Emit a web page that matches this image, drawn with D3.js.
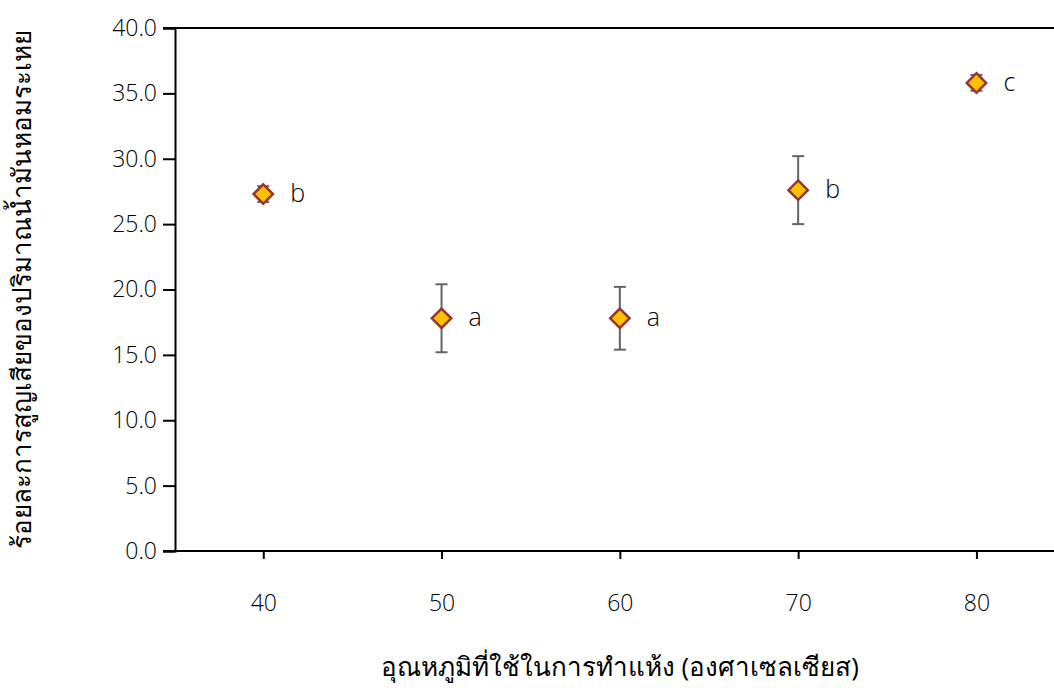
<!DOCTYPE html>
<html>
<head>
<meta charset="utf-8">
<script src="https://cdn.jsdelivr.net/npm/d3@7"></script>
<style>
  body { margin: 0; background: #fff; }
  text { font-family: "Open Sans", "Noto Sans", sans-serif; font-weight: 300; fill: #000; }
  text.thai { font-weight: 400; }
</style>
</head>
<body>
<div id="wrapper"></div>
<script>
// data
const temps = [40, 50, 60, 70, 80];
const lossMeans = [27.3, 17.8, 17.8, 27.6, 35.8];
const lossErrors = [0.6, 2.6, 2.4, 2.6, 0.6];
const groupLetters = ["b", "a", "a", "b", "c"];
const yTicks = [0, 5, 10, 15, 20, 25, 30, 35, 40];

const dataset = temps.map((t, i) => ({
  temp: t, mean: lossMeans[i], err: lossErrors[i], letter: groupLetters[i]
}));

const xAccessor = d => d.temp;
const yAccessor = d => d.mean;

// chart dimensions
let dimensions = {
  width: 1054,
  height: 688,
  margin: { top: 28, right: 0, bottom: 137, left: 175 },
};
dimensions.boundedWidth = dimensions.width - dimensions.margin.left - dimensions.margin.right;
dimensions.boundedHeight = dimensions.height - dimensions.margin.top - dimensions.margin.bottom;

const wrapper = d3.select("#wrapper")
  .append("svg")
    .attr("width", dimensions.width)
    .attr("height", dimensions.height);

const bounds = wrapper.append("g")
  .attr("transform", `translate(${dimensions.margin.left},${dimensions.margin.top})`);

// scales
const xScale = d3.scaleLinear()
  .domain([35.05, 84.35])
  .range([0, dimensions.boundedWidth]);

const yScale = d3.scaleLinear()
  .domain([0, 40])
  .range([dimensions.boundedHeight, 0]);

// top frame line
bounds.append("line")
  .attr("x1", -12).attr("x2", dimensions.boundedWidth)
  .attr("y1", yScale(40)).attr("y2", yScale(40))
  .attr("stroke", "#000").attr("stroke-width", 2);

// axes
const yAxis = bounds.append("g")
  .call(d3.axisLeft(yScale).tickValues(yTicks).tickFormat(d3.format(".1f")).tickSize(12).tickPadding(6))
  .call(g => g.attr("font-family", null).attr("font-size", null))
  .call(g => g.select(".domain").attr("stroke-width", 2))
  .call(g => g.selectAll(".tick line").attr("stroke-width", 2))
  .call(g => g.selectAll(".tick text").style("font-size", "23px"));

const xAxis = bounds.append("g")
  .attr("transform", `translate(0,${dimensions.boundedHeight})`)
  .call(d3.axisBottom(xScale).tickValues(temps).tickFormat(d3.format("d")).tickSize(8).tickSizeOuter(0).tickPadding(36))
  .call(g => g.attr("font-family", null).attr("font-size", null))
  .call(g => g.select(".domain").attr("stroke-width", 2).attr("d", `M-12,0H${dimensions.boundedWidth}`))
  .call(g => g.selectAll(".tick line").attr("stroke-width", 2))
  .call(g => g.selectAll(".tick text").style("font-size", "23px"));

// error bars
const errG = bounds.append("g").attr("stroke", "#646464").attr("stroke-width", 2);
errG.selectAll("line.stem")
  .data(dataset)
  .enter().append("line")
    .attr("class", "stem")
    .attr("x1", d => xScale(xAccessor(d))).attr("x2", d => xScale(xAccessor(d)))
    .attr("y1", d => yScale(d.mean - d.err)).attr("y2", d => yScale(d.mean + d.err));
["lo", "hi"].forEach(k => {
  errG.selectAll("line.cap-" + k)
    .data(dataset)
    .enter().append("line")
      .attr("class", "cap-" + k)
      .attr("x1", d => xScale(xAccessor(d)) - 6).attr("x2", d => xScale(xAccessor(d)) + 6)
      .attr("y1", d => yScale(k === "lo" ? d.mean - d.err : d.mean + d.err))
      .attr("y2", d => yScale(k === "lo" ? d.mean - d.err : d.mean + d.err));
});

// diamonds
const diamond = d3.symbol().type(d3.symbolDiamond2).size(240);
bounds.selectAll("path.dot")
  .data(dataset)
  .enter().append("path")
    .attr("class", "dot")
    .attr("d", diamond)
    .attr("transform", d => `translate(${xScale(xAccessor(d))},${yScale(yAccessor(d))})`)
    .attr("fill", "#ffc000")
    .attr("stroke", "#943634")
    .attr("stroke-width", 2.5);

// significance letters
bounds.selectAll("text.letter")
  .data(dataset)
  .enter().append("text")
    .attr("class", "letter")
    .attr("x", d => xScale(xAccessor(d)) + 27)
    .attr("y", d => yScale(yAccessor(d)))
    .attr("dy", "0.32em")
    .style("font-size", "25px")
    .text(d => d.letter);

// axis labels
wrapper.append("text")
  .attr("class", "thai")
  .attr("x", dimensions.margin.left + xScale(60))
  .attr("y", 676)
  .attr("text-anchor", "middle")
  .style("font-size", "26px")
  .text("อุณหภูมิที่ใช้ในการทำแห้ง (องศาเซลเซียส)");

wrapper.append("text")
  .attr("class", "thai")
  .attr("transform", `translate(31,${dimensions.margin.top + dimensions.boundedHeight / 2}) rotate(-90)`)
  .attr("text-anchor", "middle")
  .style("font-size", "26px")
  .text("ร้อยละการสูญเสียของปริมาณน้ำมันหอมระเหย");
</script>
</body>
</html>
